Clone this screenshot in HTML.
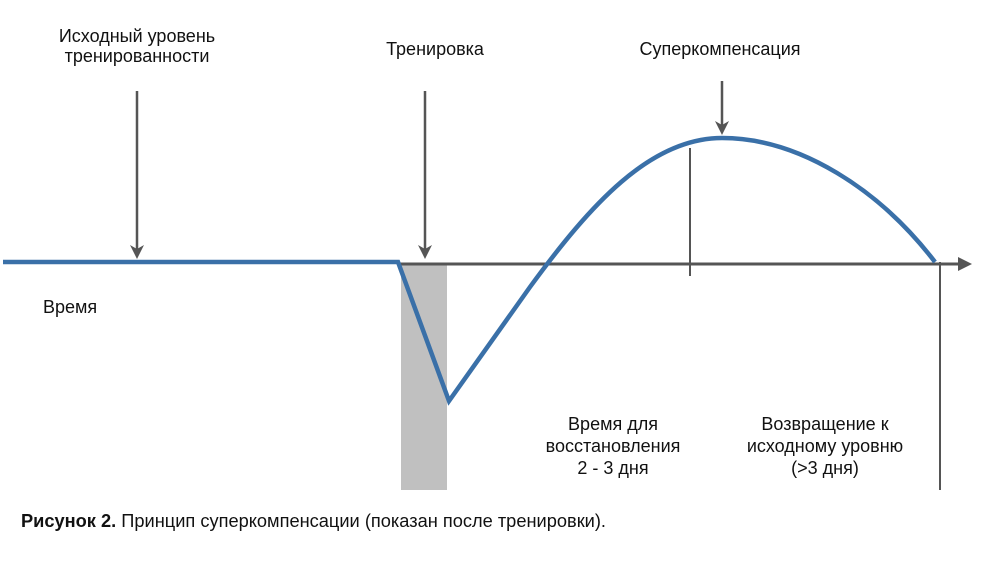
<!DOCTYPE html>
<html><head><meta charset="utf-8"><style>
body{margin:0;background:#fff;width:1004px;height:558px;overflow:hidden}
svg text{font-family:"Liberation Sans",Arial,sans-serif;font-size:18px;fill:#111}
</style></head><body>
<svg width="1004" height="558" xmlns="http://www.w3.org/2000/svg">
<rect x="401" y="263" width="46" height="227" fill="#c0c0c0"/>
<line x1="398" y1="264" x2="966" y2="264" stroke="#555" stroke-width="3"/>
<polygon points="972,264 958,257 958,271" fill="#555"/>
<line x1="690" y1="148" x2="690" y2="276" stroke="#555" stroke-width="2"/>
<line x1="940" y1="262" x2="940" y2="490" stroke="#555" stroke-width="2"/>
<g stroke="#555" stroke-width="2.5" fill="none">
<line x1="137" y1="91" x2="137" y2="254"/>
<line x1="425" y1="91" x2="425" y2="254"/>
<line x1="722" y1="81" x2="722" y2="130"/>
</g>
<g fill="#555">
<polygon points="130,245 137,259 144,245 137,249"/>
<polygon points="418,245 425,259 432,245 425,249"/>
<polygon points="715,121 722,135 729,121 722,125"/>
</g>
<path d="M3,262 L398,262 L449,401 L530,287 C590,205 650,138 722,138 C800,138 880,190 935,262" fill="none" stroke="#3a70a8" stroke-width="4.5" stroke-linejoin="miter"/>
<text x="137" y="42" text-anchor="middle">Исходный уровень</text>
<text x="137" y="62" text-anchor="middle">тренированности</text>
<text x="435" y="55" text-anchor="middle">Тренировка</text>
<text x="720" y="55" text-anchor="middle">Суперкомпенсация</text>
<text x="43" y="313">Время</text>
<text x="613" y="430" text-anchor="middle">Время для</text>
<text x="613" y="452" text-anchor="middle">восстановления</text>
<text x="613" y="474" text-anchor="middle">2 - 3 дня</text>
<text x="825" y="430" text-anchor="middle">Возвращение к</text>
<text x="825" y="452" text-anchor="middle">исходному уровню</text>
<text x="825" y="474" text-anchor="middle">(&gt;3 дня)</text>
<text x="21" y="527" style="font-size:18px" textLength="585" lengthAdjust="spacingAndGlyphs"><tspan font-weight="bold">Рисунок 2.</tspan> Принцип суперкомпенсации (показан после тренировки).</text>
</svg>
</body></html>
